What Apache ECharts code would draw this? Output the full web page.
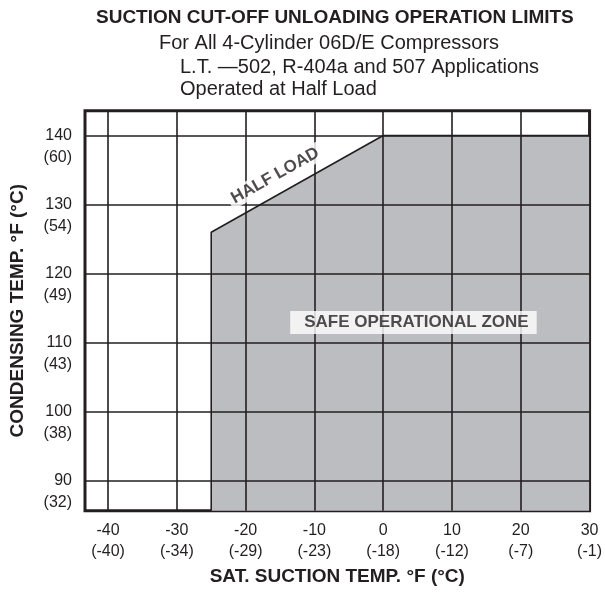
<!DOCTYPE html>
<html>
<head>
<meta charset="utf-8">
<script src="https://cdn.jsdelivr.net/npm/echarts@6/dist/echarts.min.js"></script>
<style>
html,body{margin:0;padding:0;background:#fff;}
#chart{width:605px;height:593px;}
</style>
</head>
<body>
<div id="chart"></div>
<script>
// ---- data ----
const xTicksF = [-40, -30, -20, -10, 0, 10, 20, 30];
const xTicksC = ['-40', '-34', '-29', '-23', '-18', '-12', '-7', '-1'];
const yTicksF = [90, 100, 110, 120, 130, 140];
const yTicksC = ['32', '38', '43', '49', '54', '60'];
const X_MIN = -43.35, X_MAX = 30;
const Y_MIN = 85.65, Y_MAX = 143.6;
// safe-zone boundary (sat. suction °F, condensing °F)
const boundaryX = [-25, -25, 0, 30];
const boundaryY = [Y_MIN, 126, 140, 140];
const halfLoadText = 'HALF LOAD';
const zoneText = 'SAFE OPERATIONAL ZONE';
const titleText = 'SUCTION CUT-OFF UNLOADING OPERATION LIMITS';
const subLines = ['For All 4-Cylinder 06D/E Compressors',
                  'L.T. \u2014502, R-404a and 507 Applications',
                  'Operated at Half Load'];
// annotation anchors (data space)
const halfLoadAt = [-15.7, 134.2];
const zoneAt = [4.4, 112.9];

const INK = '#231f20';
const FONT = '"Liberation Sans", Arial, Helvetica, sans-serif';
const boundary = boundaryX.map((x, i) => [x, boundaryY[i]]);

const chart = echarts.init(document.getElementById('chart'), null, {renderer: 'canvas'});
chart.setOption({
  animation: false,
  backgroundColor: '#fff',
  textStyle: {fontFamily: FONT, color: INK},
  title: [
    {text: titleText, left: 96, top: 8, padding: 0,
     textStyle: {fontFamily: FONT, fontSize: 19, fontWeight: 'bold', color: INK}},
    {text: subLines[0], left: 159, top: 33, padding: 0,
     textStyle: {fontFamily: FONT, fontSize: 20, fontWeight: 'normal', color: INK}},
    {text: subLines[1], left: 180, top: 57, padding: 0,
     textStyle: {fontFamily: FONT, fontSize: 20, fontWeight: 'normal', color: INK}},
    {text: subLines[2], left: 180, top: 79, padding: 0,
     textStyle: {fontFamily: FONT, fontSize: 20, fontWeight: 'normal', color: INK}}
  ],
  grid: {left: 84, right: 15, top: 110.7, bottom: 82.3, show: true,
         borderColor: INK, borderWidth: 3, backgroundColor: 'transparent'},
  xAxis: {
    type: 'value', min: X_MIN, max: X_MAX,
    name: 'SAT. SUCTION TEMP. \u00b0F (\u00b0C)', nameLocation: 'middle', nameGap: 57,
    nameTextStyle: {fontFamily: FONT, fontSize: 19, fontWeight: 'bold', color: INK},
    axisLine: {show: false}, axisTick: {show: false}, splitLine: {show: false},
    axisLabel: {
      customValues: xTicksF, margin: 10, fontSize: 16, lineHeight: 20.5,
      color: INK, fontFamily: FONT, align: 'center',
      formatter: v => { const i = xTicksF.indexOf(Math.round(v)); return v + '\n(' + xTicksC[i] + ')'; }
    }
  },
  yAxis: {
    type: 'value', min: Y_MIN, max: Y_MAX,
    name: 'CONDENSING TEMP. \u00b0F (\u00b0C)', nameLocation: 'middle', nameGap: 58, nameRotate: 90,
    nameTextStyle: {fontFamily: FONT, fontSize: 19, fontWeight: 'bold', color: INK},
    axisLine: {show: false}, axisTick: {show: false}, splitLine: {show: false},
    axisLabel: {
      customValues: yTicksF, margin: 13, fontSize: 16, lineHeight: 22,
      color: INK, fontFamily: FONT, align: 'right',
      formatter: v => { const i = yTicksF.indexOf(Math.round(v)); return '\n' + v + '\n(' + yTicksC[i] + ')'; }
    }
  },
  series: [
    {
      type: 'line', data: boundary, symbol: 'none', z: 1,
      lineStyle: {color: INK, width: 1.6},
      areaStyle: {color: '#bcbdc0', opacity: 1, origin: 'start'},
      markLine: {
        silent: true, symbol: ['none', 'none'], animation: false, z: 3,
        label: {show: false},
        lineStyle: {type: 'solid', color: INK, width: 1.6},
        emphasis: {disabled: true},
        data: xTicksF.map(v => ({xAxis: v})).concat(yTicksF.map(v => ({yAxis: v})))
      }
    },
    {
      type: 'scatter', z: 10, symbolSize: 0, silent: true,
      data: [halfLoadAt],
      label: {show: true, position: 'inside', formatter: halfLoadText, rotate: 29.3,
              fontFamily: FONT, fontSize: 17, fontWeight: 'bold', color: INK,
              backgroundColor: '#fff', padding: [1, 4]}
    },
    {
      type: 'scatter', z: 10, symbolSize: 0, silent: true,
      data: [zoneAt],
      label: {show: true, position: 'inside', formatter: zoneText,
              fontFamily: FONT, fontSize: 17, fontWeight: 'bold', color: INK,
              backgroundColor: '#fff', padding: [3, 8, 3, 14]}
    }
  ]
});
</script>
</body>
</html>
